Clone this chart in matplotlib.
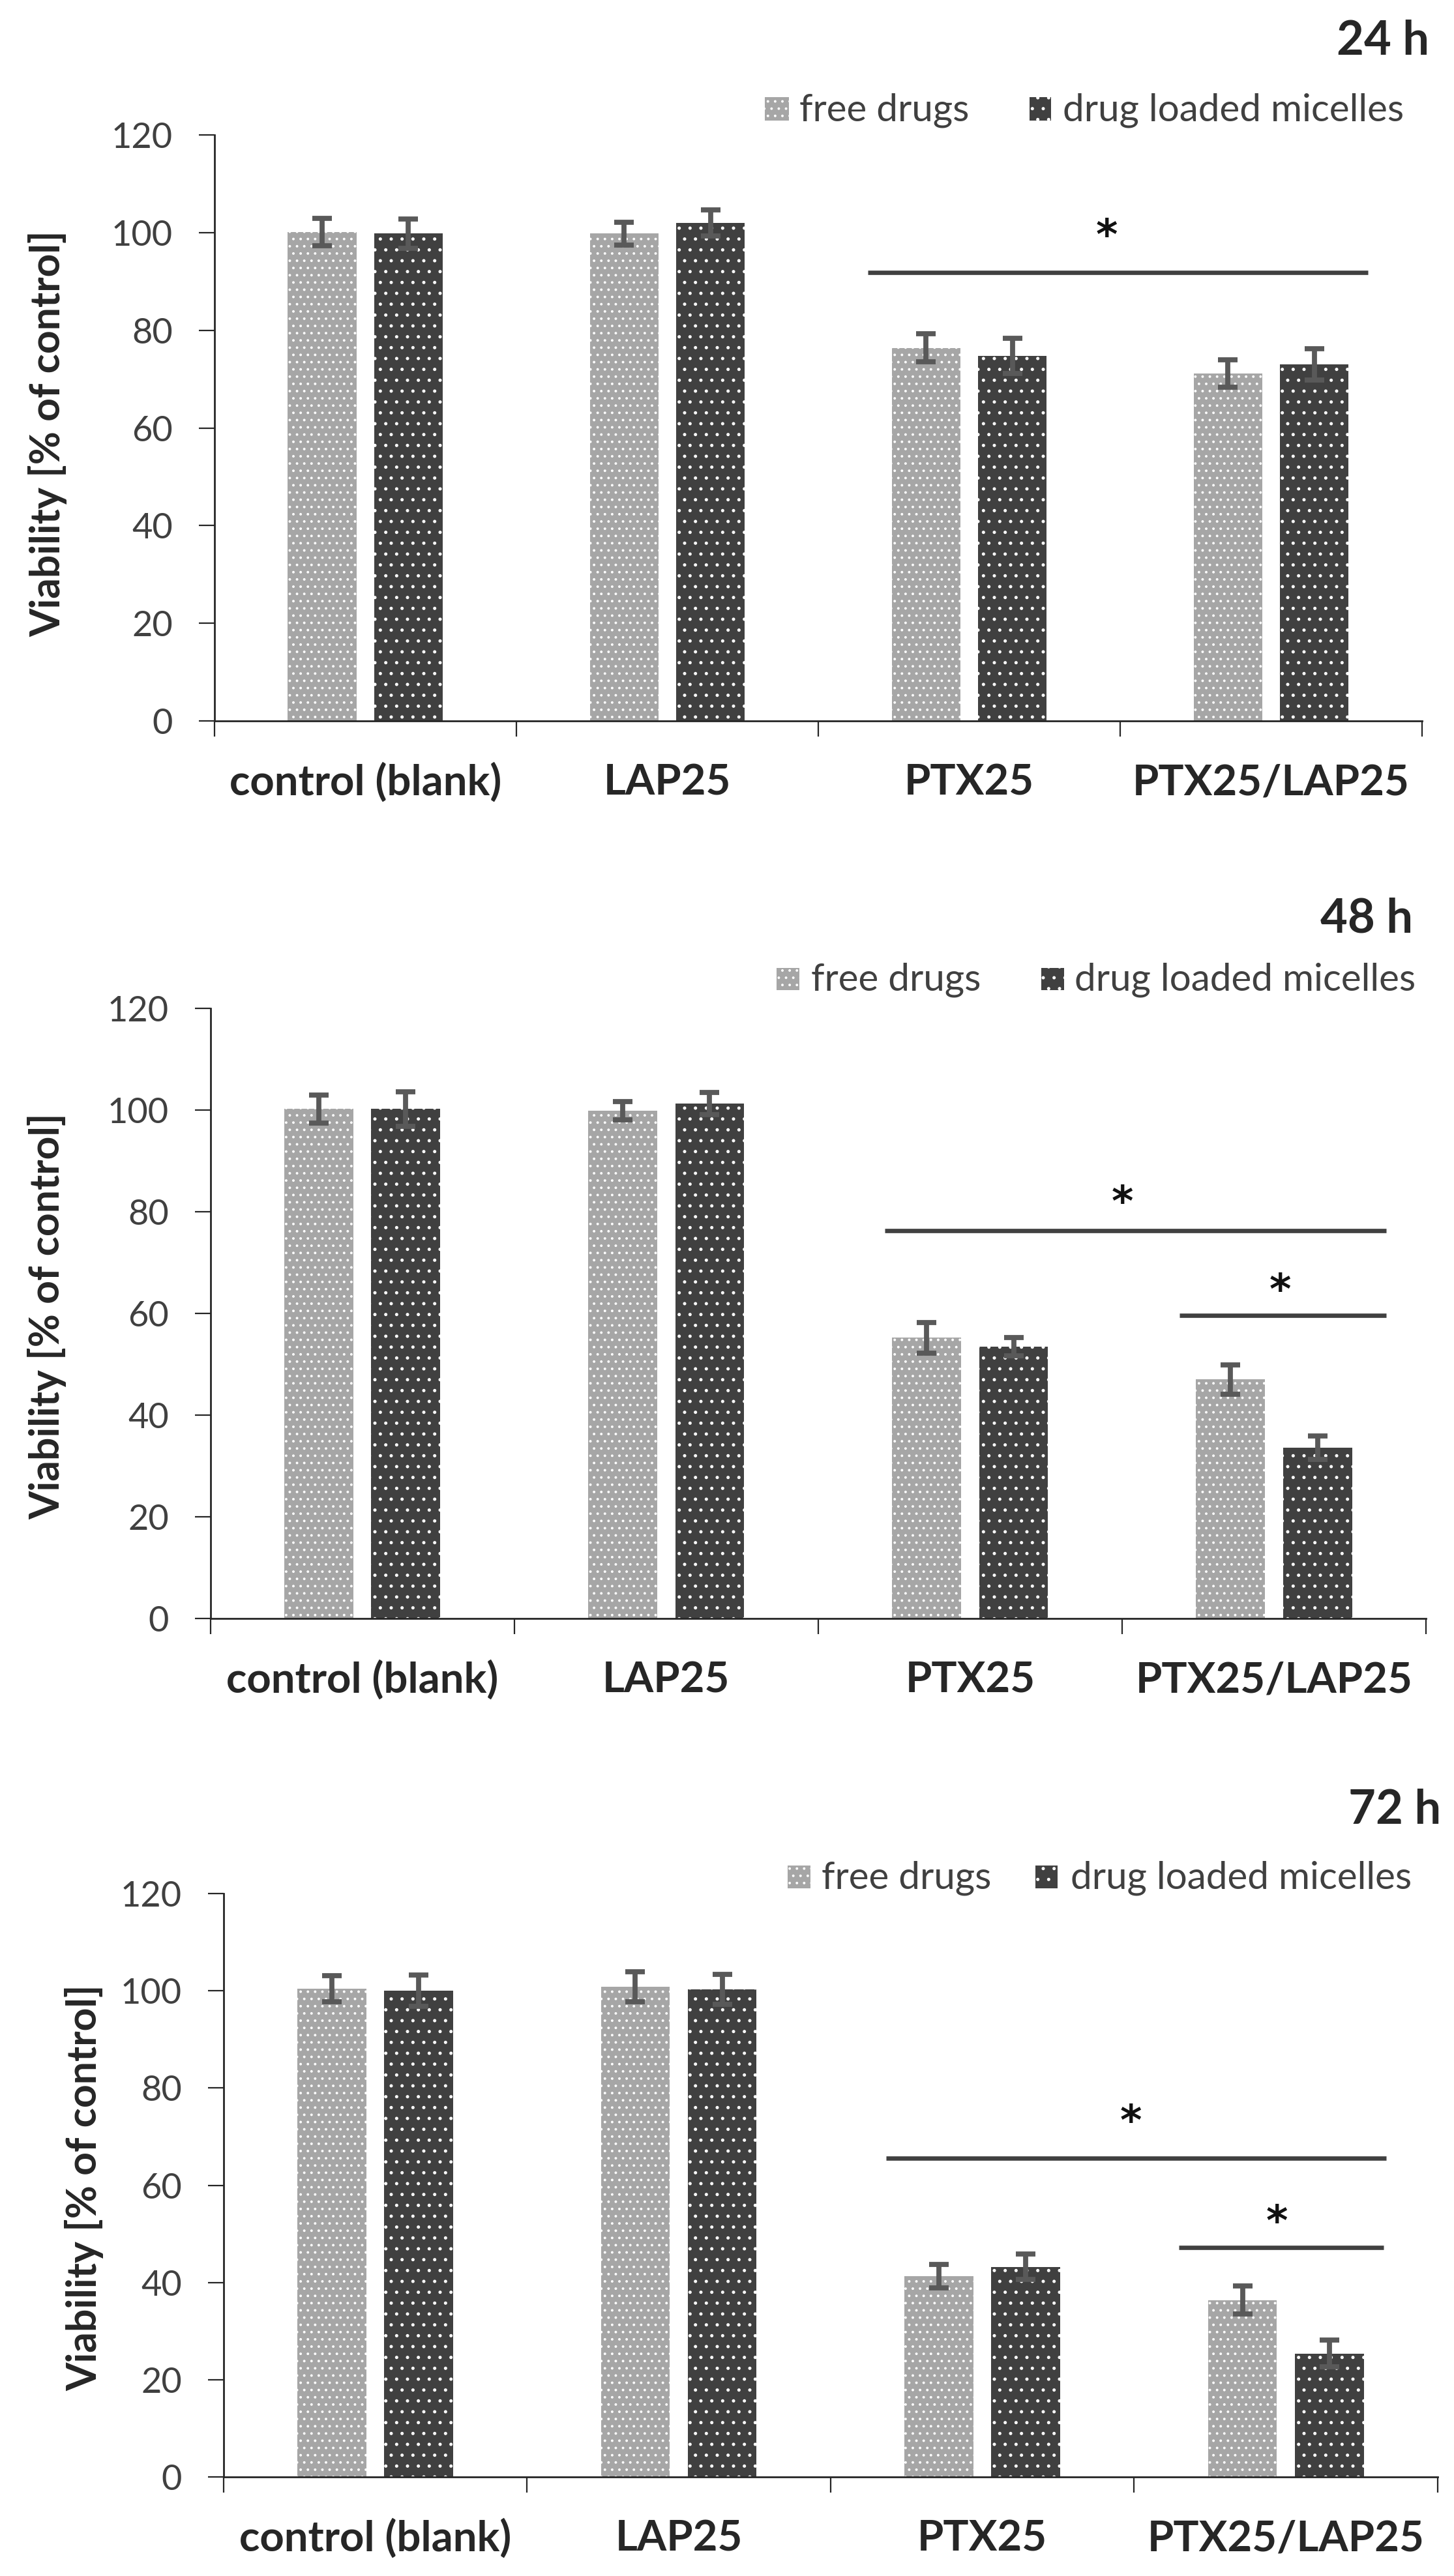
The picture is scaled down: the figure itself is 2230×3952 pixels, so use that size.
import matplotlib
matplotlib.use("Agg")
import matplotlib.pyplot as plt
from matplotlib.patches import Rectangle
import numpy as np

# Дані
categories = ["control (blank)", "LAP25", "PTX25", "PTX25/LAP25"]
series_names = ["free drugs", "drug loaded micelles"]
panel_titles = ["24 h", "48 h", "72 h"]

free_24 = [100.1, 99.8, 76.4, 71.1]
free_24_err = [2.8, 2.3, 2.9, 2.8]
mic_24 = [99.8, 102.0, 74.8, 73.0]
mic_24_err = [3.0, 2.7, 3.6, 3.2]

free_48 = [100.2, 99.9, 55.2, 47.0]
free_48_err = [2.7, 1.8, 3.0, 2.9]
mic_48 = [100.2, 101.3, 53.5, 33.6]
mic_48_err = [3.4, 2.2, 1.8, 2.3]

free_72 = [100.4, 100.8, 41.3, 36.4]
free_72_err = [2.7, 3.1, 2.4, 2.9]
mic_72 = [100.0, 100.3, 43.2, 25.4]
mic_72_err = [3.2, 3.1, 2.6, 2.8]

# significance bars: (start, end, line level, star x, star level)
sig_24 = [(1.665, 3.32, 91.8, 2.455, 101.4)]
sig_48 = [(1.72, 3.37, 76.3, 2.50, 83.9), (2.69, 3.37, 59.6, 3.02, 66.6)]
sig_72 = [(1.683, 3.331, 65.6, 2.49, 75.2), (2.647, 3.322, 47.2, 2.97, 54.6)]

y_ticks = [0, 20, 40, 60, 80, 100, 120]

# Стиль
plt.rcParams["font.family"] = ["Lato", "DejaVu Sans"]
plt.rcParams["hatch.linewidth"] = 0.6

W, H = 2230, 3952
DPI = 200
LIGHT, DARK = "#a6a6a6", "#404040"
HATCH_LIGHT, HATCH_DARK = "...", ".."

fig = plt.figure(figsize=(W / DPI, H / DPI), dpi=DPI)


def legend_entry(x0, y0, x1, y1, color, hatch, text, tx):
    fig.add_artist(Rectangle((x0 / W, 1 - y1 / H), (x1 - x0) / W, (y1 - y0) / H,
                             transform=fig.transFigure, facecolor=color,
                             edgecolor="white", lw=0, hatch=hatch))
    fig.text(tx / W, 1 - y1 / H, text, fontsize=21, color="#404040",
             ha="left", va="baseline")


def panel(box, free, free_err, mic, mic_err, sig, title, title_pos,
          leg, ylab):
    left, top, right, bottom = box
    ax = fig.add_axes([left / W, 1 - bottom / H, (right - left) / W, (bottom - top) / H])
    x = np.arange(len(categories))
    w, off = 0.227, 0.143

    ax.bar(x - off, free, w, color=LIGHT, edgecolor="white", lw=0, hatch=HATCH_LIGHT)
    ax.bar(x + off, mic, w, color=DARK, edgecolor="white", lw=0, hatch=HATCH_DARK)
    ax.errorbar(x - off, free, yerr=free_err, fmt="none", ecolor="#595959",
                elinewidth=2.8, capsize=5.4, capthick=2.8)
    ax.errorbar(x + off, mic, yerr=mic_err, fmt="none", ecolor="#595959",
                elinewidth=2.8, capsize=5.4, capthick=2.8)

    for x0, x1, yl, xs, ys in sig:
        ax.plot([x0, x1], [yl, yl], color="#404040", lw=2.4, solid_capstyle="butt",
                clip_on=False)
        ax.annotate("*", (xs, ys), xytext=(0, -13),
                    textcoords="offset points", ha="center", va="baseline",
                    fontsize=23, fontweight="bold", color="#111111",
                    family="DejaVu Sans", annotation_clip=False)

    ax.set_xlim(-0.5, 3.5)
    ax.set_ylim(0, 120)
    ax.set_yticks(y_ticks)
    ax.set_xticks(np.arange(-0.5, 4, 1))
    ax.set_xticklabels([])
    ax.set_xticks(x, minor=True)
    ax.set_xticklabels(categories, minor=True)
    for s in ["top", "right"]:
        ax.spines[s].set_visible(False)
    for s in ["left", "bottom"]:
        ax.spines[s].set_color("#262626")
        ax.spines[s].set_linewidth(1.0)
    ax.tick_params(axis="y", direction="out", length=8.6, width=0.8,
                   color="#262626", pad=14.4, labelsize=19.5, labelcolor="#404040")
    ax.tick_params(axis="x", which="major", direction="out", length=8.6,
                   width=0.8, color="#262626")
    ax.tick_params(axis="x", which="minor", length=0, pad=41, labelsize=23.5,
                   labelcolor="#262626")
    for lab in ax.get_xticklabels(minor=True):
        lab.set_fontweight("bold")
        lab.set_verticalalignment("baseline")

    fig.text(title_pos[0] / W, 1 - title_pos[1] / H, title, fontsize=26,
             fontweight="bold", color="#262626", ha="right", va="baseline")

    (m1, t1, m2, t2, ly0, ly1) = leg
    legend_entry(m1[0], ly0, m1[1], ly1, LIGHT, HATCH_LIGHT, series_names[0], t1)
    legend_entry(m2[0], ly0, m2[1], ly1, DARK, HATCH_DARK, series_names[1], t2)

    fig.text(ylab[0] / W, 1 - ylab[1] / H, "Viability [% of control]", rotation=90,
             rotation_mode="anchor", ha="center", va="baseline", fontsize=22.5,
             fontweight="bold", color="#262626")
    return ax


panel((328.7, 207, 2181, 1106), free_24, free_24_err, mic_24, mic_24_err, sig_24,
      panel_titles[0], (2192, 84),
      ((1173, 1210), 1226, (1579, 1612), 1630, 149, 185), (92, 665))
panel((322.7, 1547, 2187, 2483), free_48, free_48_err, mic_48, mic_48_err, sig_48,
      panel_titles[1], (2167, 1430),
      ((1191, 1226), 1244, (1597, 1632), 1648, 1485, 1519), (91, 2019))
panel((342.7, 2905, 2205, 3800), free_72, free_72_err, mic_72, mic_72_err, sig_72,
      panel_titles[2], (2210, 2798),
      ((1208, 1243), 1260, (1588, 1622), 1642, 2862, 2897), (148, 3356))

fig.savefig("out.png", dpi=DPI, facecolor="white")
